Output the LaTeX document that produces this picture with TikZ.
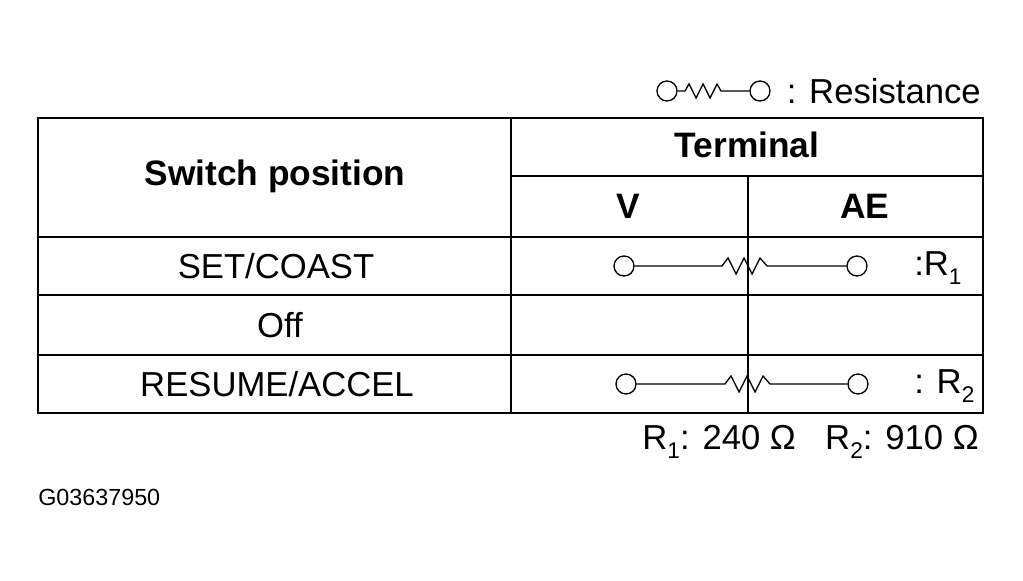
\documentclass[tikz,border=0pt]{standalone}
\usepackage{fontspec}
\setmainfont{Liberation Sans}
\newcommand{\subd}[1]{\raisebox{-0.45ex}{\fontsize{17}{17}\selectfont #1}}
\begin{document}
\begin{tikzpicture}[x=0.75pt,y=-0.75pt,
  t/.style={font=\fontsize{26}{28}\selectfont,inner sep=0pt},
  tb/.style={t,font=\fontsize{26.5}{28}\selectfont\bfseries},
  ln/.style={line width=1.4pt},
  th/.style={line width=1pt},
  term/.style={circle,draw,line width=1pt,minimum size=15pt,inner sep=0pt}]
\useasboundingbox (0,0) rectangle (1023,581);
% table
\draw[ln] (38,118) rectangle (983,413);
\draw[ln] (511,118) -- (511,413);
\draw[ln] (511,176) -- (983,176);
\draw[ln] (38,237) -- (983,237);
\draw[ln] (38,295) -- (983,295);
\draw[ln] (38,355) -- (983,355);
\draw[ln] (748,176) -- (748,413);
% texts
\node[tb] (sp) at (275,176) {Switch position};
\node[tb] (term) at (747,145) {Terminal};
\node[tb] (v) at (628,206) {V};
\node[tb] (ae) at (865,206) {AE};
\node[t] (r1) at (276,266) {SET/COAST};
\node[t] (r2) at (280,325) {Off};
\node[t] (r3) at (277,384) {RESUME/ACCEL};
% row 1 resistor
\node[term] (a1) at (624,266) {};
\node[term] (b1) at (857,266) {};
\coordinate (z1s) at (722,266);
\coordinate (z1e) at (773,266);
\draw[th] (a1) -- (z1s) -- ++(6,-8) -- ++(8,16) -- ++(8,-16) -- ++(8,16) -- ++(8,-16) -- ++(7,8) -- (z1e) -- (b1);
\node[t,anchor=west] (l1) at (914,268) {:R\subd{1}};
% row 3 resistor
\node[term] (a2) at (626,384) {};
\node[term] (b2) at (858,384) {};
\coordinate (z2s) at (725,384);
\coordinate (z2e) at (775,384);
\draw[th] (a2) -- (z2s) -- ++(6,-8) -- ++(8,16) -- ++(8,-16) -- ++(8,16) -- ++(8,-16) -- ++(7,8) -- (z2e) -- (b2);
\node[t,anchor=west] (l2) at (914,386) {: R\subd{2}};
% legend
\node[term] (la) at (667,91) {};
\node[term] (lb) at (760,91) {};
\coordinate (lzs) at (685,91);
\draw[th] (la) -- (lzs) -- ++(4,-7) -- ++(7,14) -- ++(7,-14) -- ++(7,14) -- ++(7,-14) -- ++(4,7) -- (lb);
\node[t,anchor=east] (lt) at (981,91) {: Resistance};
% values
\node[t,anchor=east] (vals) at (979,442) {R\subd{1}: 240 Ω\hspace{22pt}R\subd{2}: 910 Ω};
\node[t,anchor=west,font=\fontsize{17.5}{19}\selectfont] (code) at (38,497) {G03637950};
\end{tikzpicture}
\end{document}
